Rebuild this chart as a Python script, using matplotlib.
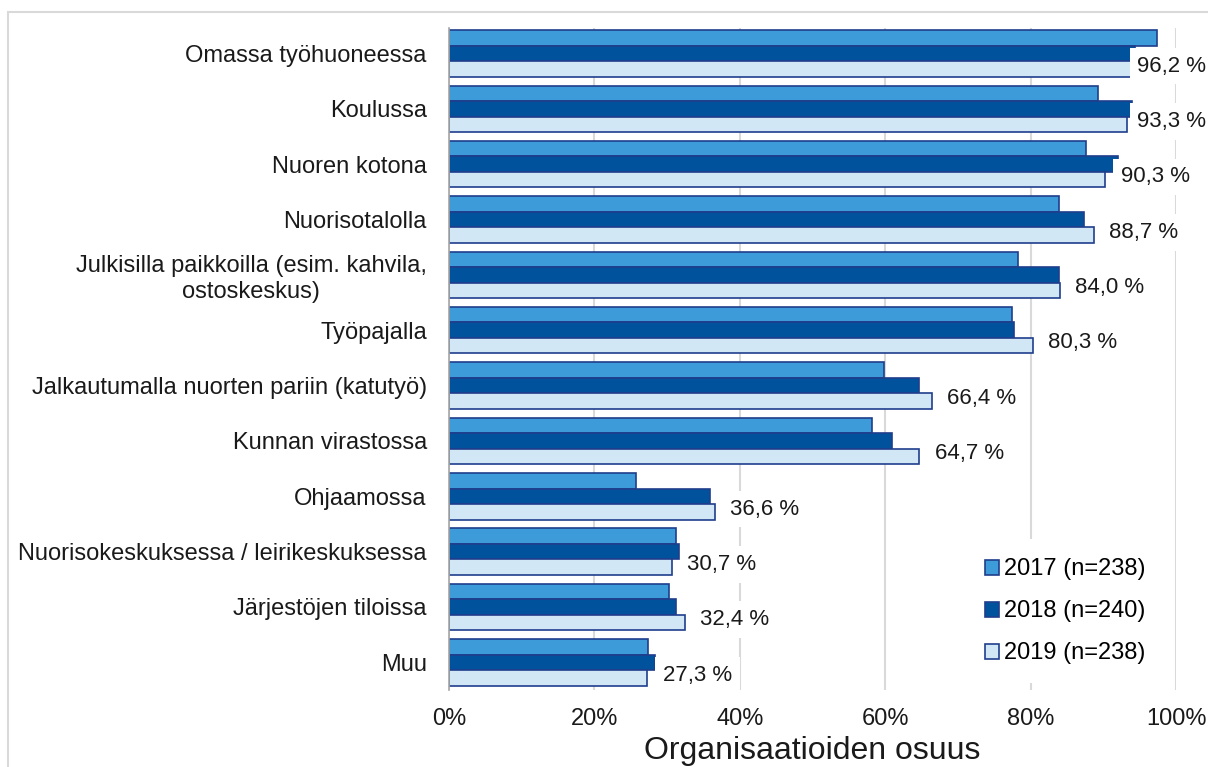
import numpy as np
import matplotlib
matplotlib.use('Agg')
import matplotlib.pyplot as plt
from matplotlib.patches import Rectangle

plt.rcParams['font.family'] = ['Liberation Sans', 'DejaVu Sans']

# Categories top to bottom
categories = [
    'Omassa työhuoneessa',
    'Koulussa',
    'Nuoren kotona',
    'Nuorisotalolla',
    'Julkisilla paikkoilla (esim. kahvila,\nostoskeskus)',
    'Työpajalla',
    'Jalkautumalla nuorten pariin (katutyö)',
    'Kunnan virastossa',
    'Ohjaamossa',
    'Nuorisokeskuksessa / leirikeskuksessa',
    'Järjestöjen tiloissa',
    'Muu',
]

# Shares (%) by year
values_2017 = [97.4, 89.3, 87.6, 83.9, 78.3, 77.5, 59.9, 58.2, 25.7, 31.2, 30.2, 27.4]
values_2018 = [94.4, 94.0, 92.0, 87.3, 83.9, 77.7, 64.7, 60.9, 35.9, 31.7, 31.2, 28.4]
values_2019 = [96.2, 93.3, 90.3, 88.7, 84.0, 80.3, 66.4, 64.7, 36.6, 30.7, 32.4, 27.3]

series_labels = ['2017 (n=238)', '2018 (n=240)', '2019 (n=238)']
xticks = [0, 20, 40, 60, 80, 100]
xtick_labels = ['0%', '20%', '40%', '60%', '80%', '100%']

colors = ['#3D9BD9', '#00529C', '#D2E7F6']
edge = '#1F3E8C'

fig = plt.figure(figsize=(12.08, 7.67), dpi=100)
ax = fig.add_axes([449 / 1208, 1 - 690 / 767, 727 / 1208, 662 / 767])

y = np.arange(len(categories))
h = 0.28
for k, vals in enumerate([values_2017, values_2018, values_2019]):
    ax.barh(y + (k - 1) * h, vals, height=h, color=colors[k],
            edgecolor=edge, linewidth=1.2, label=series_labels[k], zorder=3)

# Data labels for 2019 (kept inside the figure like the original)
for yi, v in zip(y, values_2019):
    lx = min(v, 92.6)
    ax.annotate(f'{v:.1f} %'.replace('.', ','), xy=(lx, yi + h - 0.05), xytext=(11, 0),
                textcoords='offset points', va='center', ha='left', fontsize=16,
                color='#1a1a1a', zorder=5, annotation_clip=False,
                bbox=dict(boxstyle='square,pad=0.35', fc='white', ec='none'))

ax.set_xlim(0, 100)
ax.set_ylim(11.5, -0.46)
ax.set_xticks(xticks)
ax.set_xticklabels(xtick_labels)
ax.set_yticks(y)
ax.set_yticklabels(categories)
for lab in ax.get_yticklabels():
    lab.set_multialignment('center')
    lab.set_linespacing(1.2)

ax.tick_params(axis='both', length=0, labelsize=17, colors='#1a1a1a')
ax.tick_params(axis='y', pad=16)
ax.tick_params(axis='x', pad=13)
ax.xaxis.grid(True, color='#D9D9D9', linewidth=1.5, zorder=0)
ax.set_axisbelow(True)
for s in ['top', 'right', 'bottom']:
    ax.spines[s].set_visible(False)
ax.spines['left'].set_color('#A6A6A6')
ax.spines['left'].set_linewidth(1.2)
ax.spines['left'].set_zorder(4)

ax.set_xlabel('Organisaatioiden osuus', fontsize=23, color='#1a1a1a', labelpad=4)

leg = ax.legend(loc='lower right', bbox_to_anchor=(0.9835, 0.01), fontsize=17,
                frameon=True, facecolor='white', edgecolor='none', framealpha=1,
                handlelength=0.6, handleheight=0.6, handletextpad=0.2,
                labelspacing=0.85, borderpad=0.8, borderaxespad=0)
leg.set_zorder(6)

fig.patches.append(Rectangle((8 / 1208, -0.01), 1.1, 1 - 12 / 767 + 0.01,
                             transform=fig.transFigure, fill=False,
                             edgecolor='#D9D9D9', linewidth=1.5))

fig.savefig('out.png', dpi=100)
